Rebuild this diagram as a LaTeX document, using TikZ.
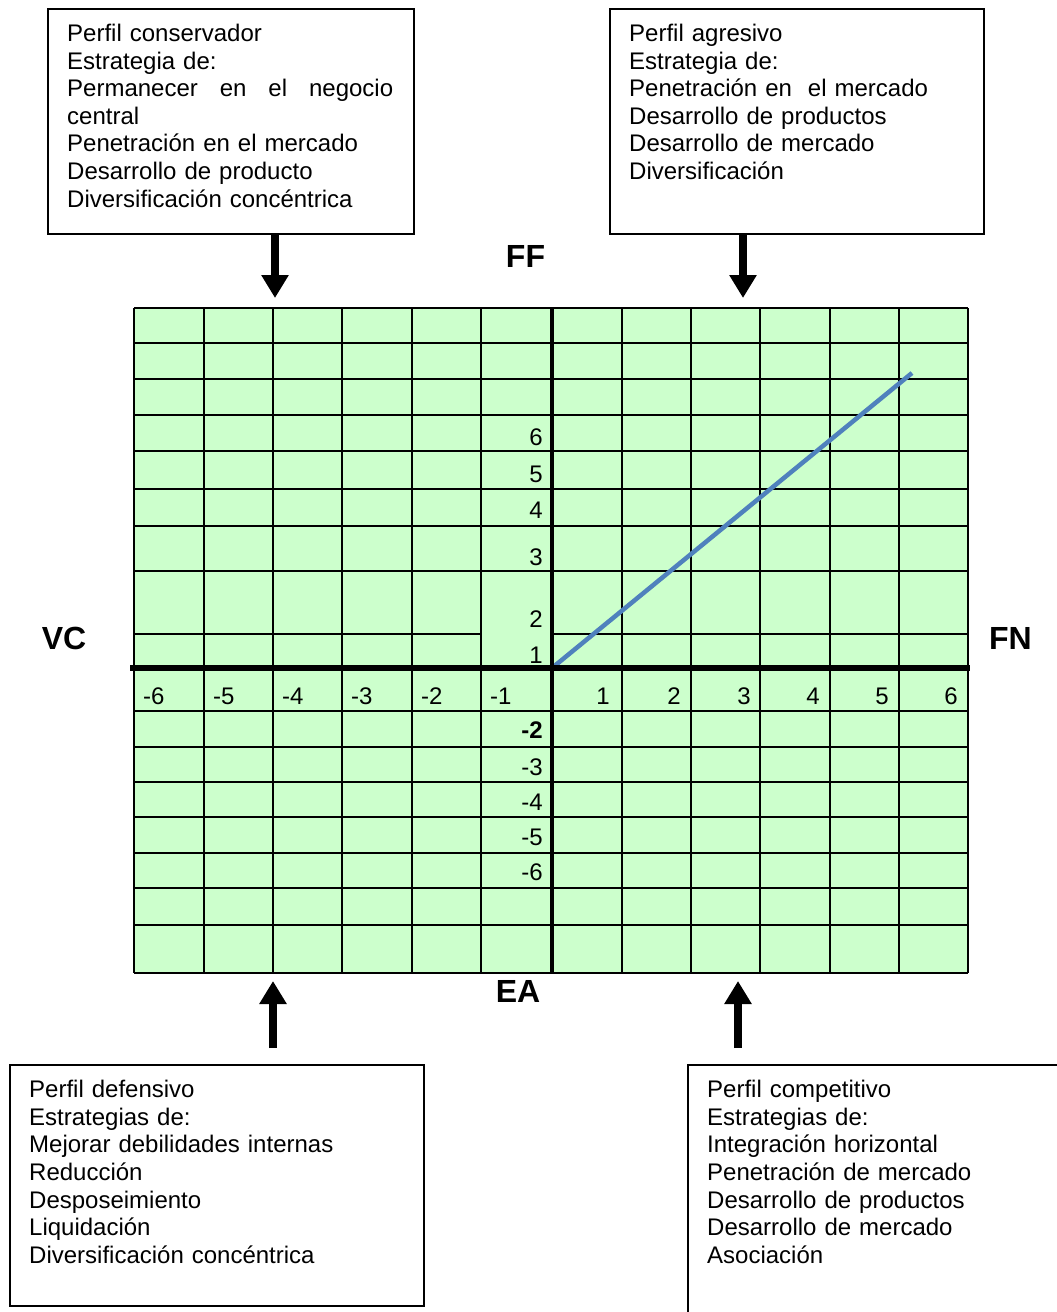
\documentclass[tikz,border=0pt]{standalone}
\usepackage{fontspec}
\setmainfont{Liberation Sans}
\usetikzlibrary{arrows.meta}
\definecolor{gridgreen}{HTML}{CCFFCC}
\definecolor{lineblue}{HTML}{4F81BD}
\begin{document}
\begin{tikzpicture}[x=1pt,y=-1pt,
  every node/.style={font=\fontsize{24}{27.6}\selectfont},
  boxframe/.style={draw, line width=1.6pt, inner sep=0pt, anchor=north west},
  boxtext/.style={anchor=north west, inner sep=0pt, text width=#1, align=left},
  gridline/.style={line width=2pt, black},
  axisline/.style={line width=6pt, black},
  vaxisline/.style={line width=3.5pt, black},
  bigarrow/.style={line width=8pt, -{Triangle[width=26pt,length=23pt]}},
  quadlabel/.style={font=\fontsize{32}{36}\selectfont\bfseries},
  ylab/.style={anchor=base east, inner sep=0pt},
  xlabneg/.style={anchor=base west, inner sep=0pt},
  xlabpos/.style={anchor=base east, inner sep=0pt},
  trend/.style={line width=4.5pt, lineblue}
]
\useasboundingbox (0,0) rectangle (1057,1312);
\clip (0,0) rectangle (1057,1312);

% ---------- grid ----------
\fill[gridgreen] (134,308) rectangle (968,973);
\foreach \x in {134,204,273,342,412,481,622,691,760,830,899,968}
  \draw[gridline] (\x,308) -- (\x,973);
\foreach \y in {308,343,379,415,451,489,526,571,711,747,782,817,853,888,925,973}
  \draw[gridline] (134,\y) -- (968,\y);
\draw[gridline] (134,634) -- (481,634);
\draw[gridline] (552,634) -- (968,634);

% trend line
\coordinate (origin) at (552,668);
\coordinate (trendend) at (912,373);
\draw[trend] (origin) -- (trendend);

% axes
\draw[vaxisline] (552,308) -- (552,973);
\draw[axisline] (130,668) -- (970,668);

% y labels positive
\node[ylab] (y6) at (543,445.3) {6};
\node[ylab] (y5) at (543,482) {5};
\node[ylab] (y4) at (543,518.6) {4};
\node[ylab] (y3) at (543,565.3) {3};
\node[ylab] (y2) at (543,627) {2};
\node[ylab] (y1) at (543,663.6) {1};
% y labels negative
\node[ylab, font=\fontsize{24}{27.6}\selectfont\bfseries] (ym2) at (543,738.6) {-2};
\node[ylab] (ym3) at (543,775.3) {-3};
\node[ylab] (ym4) at (543,810.3) {-4};
\node[ylab] (ym5) at (543,845.3) {-5};
\node[ylab] (ym6) at (543,880.3) {-6};
% x labels
\node[xlabneg] (xm6) at (143,704.3) {-6};
\node[xlabneg] (xm5) at (213,704.3) {-5};
\node[xlabneg] (xm4) at (282,704.3) {-4};
\node[xlabneg] (xm3) at (351,704.3) {-3};
\node[xlabneg] (xm2) at (421,704.3) {-2};
\node[xlabneg] (xm1) at (490,704.3) {-1};
\node[xlabpos] (x1) at (610,704.3) {1};
\node[xlabpos] (x2) at (681,704.3) {2};
\node[xlabpos] (x3) at (751,704.3) {3};
\node[xlabpos] (x4) at (820,704.3) {4};
\node[xlabpos] (x5) at (889,704.3) {5};
\node[xlabpos] (x6) at (958,704.3) {6};

% quadrant labels
\node[quadlabel] (FF) at (525.5,256) {FF};
\node[quadlabel] (EA) at (518,991) {EA};
\node[quadlabel] (VC) at (64,638.5) {VC};
\node[quadlabel] (FN) at (1010.5,638.5) {FN};

% ---------- boxes ----------
\node[boxframe, minimum width=366pt, minimum height=225pt] (b1) at (47,8) {};
\node[boxtext=330pt] (t1) at ([shift={(20,16)}]b1.north west) {Perfil conservador\\
Estrategia de:\\
\makebox[326pt][l]{Permanecer\hfill en\hfill el\hfill negocio}\\
central\\
Penetración en el mercado\\
Desarrollo de producto\\
Diversificación concéntrica};

\node[boxframe, minimum width=374pt, minimum height=225pt] (b2) at (609,8) {};
\node[boxtext=340pt] (t2) at ([shift={(20,16)}]b2.north west) {Perfil agresivo\\
Estrategia de:\\
Penetración en\ \ el mercado\\
Desarrollo de productos\\
Desarrollo de mercado\\
Diversificación};

\node[boxframe, minimum width=414pt, minimum height=241pt] (b3) at (9,1064) {};
\node[boxtext=370pt] (t3) at ([shift={(20,16)}]b3.north west) {Perfil defensivo\\
Estrategias de:\\
Mejorar debilidades internas\\
Reducción\\
Desposeimiento\\
Liquidación\\
Diversificación concéntrica};

\node[boxframe, minimum width=420pt, minimum height=300pt] (b4) at (687,1064) {};
\node[boxtext=340pt] (t4) at ([shift={(20,16)}]b4.north west) {Perfil competitivo\\
Estrategias de:\\
Integración horizontal\\
Penetración de mercado\\
Desarrollo de productos\\
Desarrollo de mercado\\
Asociación};

% ---------- arrows ----------
\coordinate (a1) at (275,298);
\coordinate (a2) at (743,298);
\draw[bigarrow] (a1 |- b1.south) -- (a1);
\draw[bigarrow] (a2 |- b2.south) -- (a2);
\coordinate (a3s) at (273,1048);
\coordinate (a3e) at (273,981);
\coordinate (a4s) at (738,1048);
\coordinate (a4e) at (738,981);
\draw[bigarrow] (a3s) -- (a3e);
\draw[bigarrow] (a4s) -- (a4e);
\end{tikzpicture}
\end{document}
